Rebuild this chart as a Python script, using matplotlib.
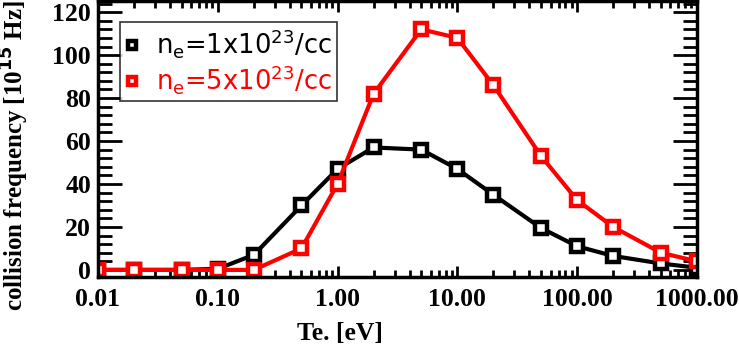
import matplotlib.pyplot as plt
from matplotlib.ticker import FixedLocator, MultipleLocator, NullFormatter

te = [0.01, 0.02, 0.05, 0.1, 0.2, 0.5, 1, 2, 5, 10, 20, 50, 100, 200, 500, 1000]
nu_1e23 = [0, 0, 0, 0.5, 7, 30, 47, 57, 56, 47, 35, 19.5, 11, 6.5, 3, 1]
nu_5e23 = [0, 0, 0, 0, 0, 10, 40, 82, 112, 108, 86, 53, 32.5, 20, 8, 4]
xticks = [0.01, 0.1, 1, 10, 100, 1000]
xticklabels = ["0.01", "0.10", "1.00", "10.00", "100.00", "1000.00"]
yticks = [0, 20, 40, 60, 80, 100, 120]

plt.rcParams["mathtext.fontset"] = "dejavusans"
serif = {"family": "Liberation Serif", "weight": "bold", "size": 18.5}

fig = plt.figure(figsize=(7.39, 3.5), dpi=100)
ax = fig.add_axes([0.1326, 0.2086, 0.8104, 0.7874])

ax.plot(te, nu_1e23, color="black", lw=3, marker="s", ms=8, mfc="white", mew=3.2,
        label=r"n$_\mathregular{e}$=1x10$^{23}$/cc")
ax.plot(te, nu_5e23, color="red", lw=3, marker="s", ms=8, mfc="white", mew=3.2,
        label=r"n$_\mathregular{e}$=5x10$^{23}$/cc")

ax.set_xscale("log")
ax.set_xlim(0.01, 1000)
ax.set_ylim(-3.3, 125)

ax.xaxis.set_major_locator(FixedLocator(xticks))
ax.set_xticklabels(xticklabels)
ax.xaxis.set_minor_locator(FixedLocator([m * 10.0 ** e for e in range(-2, 3) for m in range(2, 10)]))
ax.xaxis.set_minor_formatter(NullFormatter())
ax.set_yticks(yticks)
ax.yaxis.set_minor_locator(MultipleLocator(4))

ax.tick_params(which="both", direction="in", top=True, right=True, width=2)
ax.tick_params(axis="x", which="major", length=8, pad=8)
ax.tick_params(axis="x", which="minor", length=5)
ax.tick_params(axis="y", which="major", length=17, pad=5)
ax.tick_params(axis="y", which="minor", length=10)
for lab in ax.get_xticklabels() + ax.get_yticklabels():
    lab.set_fontproperties(serif)
for s in ax.spines.values():
    s.set_linewidth(2.5)

ax.set_xlabel("Te. [eV]", fontdict=serif)
ax.xaxis.set_label_coords(0.404, -0.165)
ax.set_ylabel(r"collision frequency [10$^{\mathbf{15}}$ Hz]", fontdict={**serif, "size": 18})
ax.yaxis.set_label_coords(-0.112, 0.44)

leg = ax.legend(loc="upper left", bbox_to_anchor=(0.037, 0.924), fontsize=18.5, frameon=True,
                fancybox=False, edgecolor="black", handlelength=0.5, handletextpad=0.7,
                borderpad=0.2, labelspacing=0.1, borderaxespad=0, markerscale=0.7)
leg.get_frame().set_linewidth(1.2)
for line in leg.get_lines():
    line.set_linestyle("")
for text, c in zip(leg.get_texts(), ["black", "red"]):
    text.set_color(c)

fig.savefig("out.png", dpi=100)
